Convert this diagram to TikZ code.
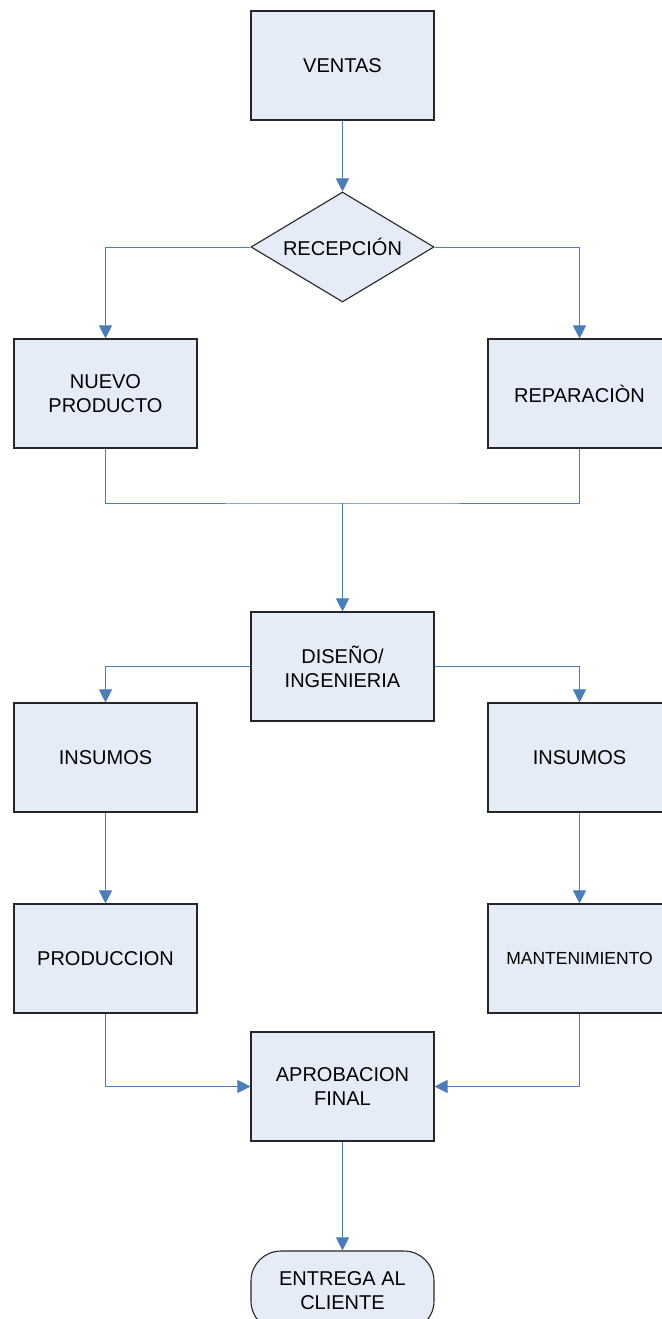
\documentclass[tikz,border=0pt]{standalone}
\usepackage{fontspec}
\setmainfont{Liberation Sans}
\usetikzlibrary{arrows.meta,shapes.geometric}
\definecolor{boxfill}{HTML}{E6ECF7}
\definecolor{linkblue}{HTML}{4A7EBB}
\begin{document}
\begin{tikzpicture}[x=1pt,y=-1pt,
  every node/.style={font=\fontsize{20}{24}\selectfont, align=center, text=black},
  box/.style={draw=black!85, line width=1.1pt, fill=boxfill, minimum width=183pt, minimum height=109pt, inner sep=0pt},
  decision/.style={diamond, draw=black!85, line width=1.1pt, fill=boxfill, minimum width=183pt, minimum height=110pt, aspect=1.66, inner sep=0pt},
  terminal/.style={draw=black!85, line width=1.1pt, fill=boxfill, rounded corners=30pt, minimum width=183pt, minimum height=80pt, inner sep=0pt},
  link/.style={draw=linkblue, line width=0.9pt},
  arr/.style={link, -{Triangle[length=13pt,width=13pt]}}
]
\useasboundingbox (0,0) rectangle (661,1319);
\node[box] (ventas) at (342.5,65.5) {VENTAS};
\node[decision] (rec) at (342.5,247) {RECEPCIÓN};
\node[box] (nuevo) at (105.5,393.5) {NUEVO\\PRODUCTO};
\node[box] (rep) at (579.5,393.5) {REPARACIÒN};
\node[box] (dis) at (342.5,666.5) {DISEÑO/\\INGENIERIA};
\node[box] (ins1) at (105.5,757.5) {INSUMOS};
\node[box] (ins2) at (579.5,757.5) {INSUMOS};
\node[box] (prod) at (105.5,958.5) {PRODUCCION};
\node[box, font=\fontsize{17.5}{21}\selectfont] (mant) at (579.5,958.5) {MANTENIMIENTO};
\node[box] (apr) at (342.5,1086.5) {APROBACION\\FINAL};
\node[terminal] (ent) at (342.5,1291) {ENTREGA AL\\CLIENTE};
\coordinate (m) at (342.5,503);
\draw[arr] (ventas.south) -- (rec.north);
\draw[arr] (rec.west) -| (nuevo.north);
\draw[arr] (rec.east) -| (rep.north);
\draw[link] (nuevo.south) |- (m) -| (rep.south);
\draw[arr] (m) -- (dis.north);
\draw[arr] (dis.west) -| (ins1.north);
\draw[arr] (dis.east) -| (ins2.north);
\draw[arr] (ins1.south) -- (prod.north);
\draw[arr] (ins2.south) -- (mant.north);
\draw[arr] (prod.south) |- (apr.west);
\draw[arr] (mant.south) |- (apr.east);
\draw[arr] (apr.south) -- (ent.north);
\end{tikzpicture}
\end{document}
